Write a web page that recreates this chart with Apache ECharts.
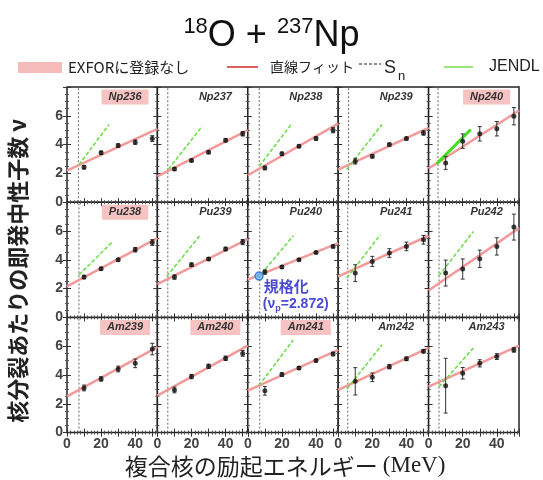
<!DOCTYPE html>
<html>
<head>
<meta charset="utf-8">
<script src="https://cdn.jsdelivr.net/npm/echarts@6/dist/echarts.min.js"></script>
<style>
html, body { margin: 0; padding: 0; background: #fff; }
#chart-container { width: 543px; height: 480px; }
</style>
</head>
<body>
<div id="chart-container"></div>
<script>
// panels, row by row
var nuclei = [
  'Np236', 'Np237', 'Np238', 'Np239', 'Np240',
  'Pu238', 'Pu239', 'Pu240', 'Pu241', 'Pu242',
  'Am239', 'Am240', 'Am241', 'Am242', 'Am243'
];
// not registered in EXFOR (pink label)
var noExfor = ['Np236', 'Np240', 'Pu238', 'Am239', 'Am240', 'Am241'];

var energies = [10, 20, 30, 40, 50];
var nuValues = [
  [2.43, 3.43, 3.93, 4.17, 4.42],
  [2.30, 2.90, 3.47, 4.30, 4.75],
  [2.38, 3.36, 3.89, 4.42, 5.00],
  [2.85, 3.19, 4.00, 4.42, 4.81],
  [2.73, 4.24, 4.75, 5.10, 5.97],
  [2.80, 3.38, 4.00, 4.70, 5.20],
  [2.80, 3.66, 4.05, 4.75, 5.23],
  [3.15, 3.50, 4.00, 4.51, 4.93],
  [3.08, 3.89, 4.47, 4.93, 5.39],
  [3.08, 3.36, 4.07, 4.93, 6.27],
  [3.10, 3.73, 4.42, 4.81, 5.80],
  [2.96, 3.89, 4.60, 5.16, 5.50],
  [2.90, 4.03, 4.49, 5.00, 5.46],
  [3.56, 3.84, 4.58, 5.12, 5.65],
  [3.26, 4.12, 4.81, 5.28, 5.74]
];
var nuErrors = [
  [0.12, 0.12, 0.12, 0.15, 0.20],
  [0.10, 0.10, 0.10, 0.12, 0.15],
  [0.12, 0.12, 0.10, 0.12, 0.18],
  [0.20, 0.12, 0.10, 0.10, 0.15],
  [0.45, 0.50, 0.50, 0.50, 0.60],
  [0.12, 0.10, 0.10, 0.15, 0.20],
  [0.15, 0.12, 0.10, 0.12, 0.18],
  [0.15, 0.10, 0.08, 0.08, 0.10],
  [0.58, 0.35, 0.30, 0.30, 0.30],
  [0.90, 0.70, 0.60, 0.60, 0.90],
  [0.20, 0.15, 0.20, 0.30, 0.40],
  [0.20, 0.15, 0.15, 0.15, 0.20],
  [0.30, 0.12, 0.10, 0.10, 0.12],
  [0.95, 0.30, 0.15, 0.12, 0.12],
  [1.90, 0.40, 0.25, 0.20, 0.15]
];
// linear fit: nu at E = 0 and at E = 53
var fitStart = [2.20, 1.80, 1.87, 2.27, 2.34, 2.15, 2.31, 2.62, 2.85, 1.87, 2.52, 2.57, 2.92, 2.96, 3.19];
var fitEnd   = [5.10, 5.00, 5.46, 5.16, 6.37, 5.50, 5.44, 5.16, 5.67, 6.20, 5.93, 6.04, 5.74, 5.88, 6.04];
// neutron separation energy (MeV)
var snValues = [6.7, 6.1, 6.7, 6.1, 5.5, 7.0, 6.1, 7.0, 5.6, 6.1, 7.0, 6.1, 7.0, 5.6, 6.1];
// JENDL segments [E1, nu1, E2, nu2]; null = none
var jendl = [
  [7.0, 2.60, 24.7, 5.40],
  [6.5, 2.30, 26.3, 5.28],
  [6.7, 2.50, 25.7, 5.44],
  [5.0, 2.27, 25.7, 5.40],
  [4.7, 2.66, 24.7, 5.05],
  [7.0, 2.95, 26.9, 5.28],
  [5.5, 2.85, 25.3, 5.74],
  [8.0, 3.03, 26.7, 5.67],
  [5.0, 2.73, 24.7, 5.74],
  [6.0, 2.89, 26.3, 5.97],
  null,
  null,
  [6.5, 3.26, 26.7, 6.44],
  [5.1, 3.03, 25.7, 6.10],
  [6.1, 3.19, 26.3, 5.88]
];
var normPanel = 'Pu240';
var normPoint = [6.6, 2.872];

var X_MAX = 53, Y_MAX = 8;
var GL = 67, GT = 87, GW = 90.4, GH = 115.2;

var dom = document.getElementById('chart-container');
var myChart = echarts.init(dom, null, {renderer: 'canvas'});

var grids = [], xAxes = [], yAxes = [], series = [], graphics = [];

function renderErr(params, api) {
  var x = api.value(0), lo = api.value(1), hi = api.value(2);
  var a = api.coord([x, lo]), b = api.coord([x, hi]);
  var st = {stroke: '#333', lineWidth: 1};
  return {type: 'group', children: [
    {type: 'line', shape: {x1: a[0], y1: a[1], x2: b[0], y2: b[1]}, style: st},
    {type: 'line', shape: {x1: a[0] - 2, y1: a[1], x2: a[0] + 2, y2: a[1]}, style: st},
    {type: 'line', shape: {x1: b[0] - 2, y1: b[1], x2: b[0] + 2, y2: b[1]}, style: st}
  ]};
}

var tickLabel = {fontSize: 14, fontWeight: 'bold', color: '#444', fontFamily: 'Liberation Sans'};

nuclei.forEach(function (name, k) {
  var col = k % 5, row = Math.floor(k / 5);
  var left = GL + col * GW, top = GT + row * GH;
  grids.push({left: left, top: top, width: GW, height: GH, show: true,
    borderColor: '#222', borderWidth: 1.5, backgroundColor: '#fff'});

  var xBase = {gridIndex: k, type: 'value', min: 0, max: X_MAX, interval: 10,
    axisLine: {show: false}, splitLine: {show: false},
    axisTick: {inside: true, length: 4, lineStyle: {color: '#333'}},
    minorTick: {show: true, splitNumber: 5, length: 2, lineStyle: {color: '#555'}}};
  xAxes.push(Object.assign({}, xBase, {position: 'bottom',
    axisLabel: Object.assign({show: row === 2, margin: 5, showMaxLabel: false,
      formatter: function (v) { return v % 20 === 0 ? String(v) : ''; }}, tickLabel)}));
  xAxes.push(Object.assign({}, xBase, {position: 'top', axisLabel: {show: false}}));

  var yBase = {gridIndex: k, type: 'value', min: 0, max: Y_MAX, interval: 2,
    axisLine: {show: false}, splitLine: {show: false},
    axisTick: {inside: true, length: 4, lineStyle: {color: '#333'}},
    minorTick: {show: true, splitNumber: 4, length: 2, lineStyle: {color: '#555'}}};
  yAxes.push(Object.assign({}, yBase, {position: 'left',
    axisLabel: Object.assign({show: col === 0, margin: 4, showMaxLabel: false}, tickLabel)}));
  yAxes.push(Object.assign({}, yBase, {position: 'right', axisLabel: {show: false}}));

  var xi = 2 * k, yi = 2 * k;

  // Sn
  series.push({type: 'line', xAxisIndex: xi, yAxisIndex: yi, silent: true, symbol: 'none',
    data: [[snValues[k], 0], [snValues[k], Y_MAX]],
    lineStyle: {color: '#666', width: 1, type: [2, 2]}, z: 1});
  // linear fit
  series.push({type: 'line', xAxisIndex: xi, yAxisIndex: yi, silent: true, symbol: 'none',
    data: [[0, fitStart[k]], [X_MAX, fitEnd[k]]],
    lineStyle: {color: '#f29a9a', width: 2.5}, z: 2});
  // JENDL
  if (jendl[k]) {
    var j = jendl[k], thick = name === 'Np240';
    series.push({type: 'line', xAxisIndex: xi, yAxisIndex: yi, silent: true, symbol: 'none',
      data: [[j[0], j[1]], [j[2], j[3]]],
      lineStyle: thick ? {color: '#44dd22', width: 3} : {color: '#66dd44', width: 1.5, type: [4, 2]}, z: 3});
  }
  // error bars
  series.push({type: 'custom', xAxisIndex: xi, yAxisIndex: yi, silent: true,
    renderItem: renderErr, encode: {x: 0, y: [1, 2]},
    data: energies.map(function (e, i) {
      return [e, nuValues[k][i] - nuErrors[k][i], nuValues[k][i] + nuErrors[k][i]];
    }), z: 4});
  // points
  series.push({type: 'scatter', xAxisIndex: xi, yAxisIndex: yi, silent: true,
    symbolSize: 5, itemStyle: {color: '#111'},
    data: energies.map(function (e, i) { return [e, nuValues[k][i]]; }), z: 5});

  if (name === normPanel) {
    series.push({type: 'scatter', xAxisIndex: xi, yAxisIndex: yi, silent: true,
      symbolSize: 8, itemStyle: {color: '#5ab4f0', borderColor: '#2e6fd6', borderWidth: 1.5},
      data: [normPoint], z: 6});
    graphics.push({type: 'text', left: left + 16, top: top + 77, z: 10,
      style: {text: '規格化', font: 'bold 15px "Noto Sans CJK JP"', fill: '#4a4ad4'}});
    graphics.push({type: 'text', left: left + 15, top: top + 95, z: 10,
      style: {text: '(ν{s|p}=2.872)', font: 'bold 14px "Liberation Sans"', fill: '#4a4ad4',
        rich: {s: {fontSize: 9, fontWeight: 'bold', fill: '#4a4ad4', padding: [8, 0, 0, 0]}}}});
  }

  // panel label
  var pink = noExfor.indexOf(name) >= 0;
  graphics.push({type: 'text', x: left + 58, y: top + 10, z: 10,
    style: {text: name, font: 'italic bold 11px "Liberation Sans"', fill: '#333',
      align: 'center', verticalAlign: 'middle',
      backgroundColor: pink ? '#f6c2c2' : 'transparent', padding: [2, 7]}});
});

// title
graphics.push({type: 'text', left: 'center', top: 16, z: 10,
  style: {text: '{s|18}{m|O + }{s|237}{m|Np}', fill: '#111',
    rich: {
      s: {fontSize: 22, fontFamily: 'Liberation Sans', verticalAlign: 'top', lineHeight: 40, padding: [0, 0, 14, 0]},
      m: {fontSize: 36, fontFamily: 'Liberation Sans', lineHeight: 40}
    }}});

// legend
graphics.push({type: 'rect', shape: {x: 18, y: 62, width: 44, height: 11}, style: {fill: '#f6bcbc'}});
graphics.push({type: 'text', x: 68, y: 67, style: {text: 'EXFORに登録なし', font: '15px "Noto Sans CJK JP"',
  fill: '#222', verticalAlign: 'middle'}});
graphics.push({type: 'line', shape: {x1: 227, y1: 67, x2: 258, y2: 67}, style: {stroke: '#e06060', lineWidth: 2}});
graphics.push({type: 'text', x: 270, y: 67, style: {text: '直線フィット', font: '14px "Noto Sans CJK JP"',
  fill: '#222', verticalAlign: 'middle'}});
graphics.push({type: 'line', shape: {x1: 359, y1: 64, x2: 381, y2: 64}, style: {stroke: '#222', lineWidth: 1.2, lineDash: [3, 2]}});
graphics.push({type: 'text', x: 384, y: 68, style: {text: 'S', font: '18px "Liberation Sans"', fill: '#222', verticalAlign: 'middle'}});
graphics.push({type: 'text', x: 398, y: 76, style: {text: 'n', font: '13px "Liberation Sans"', fill: '#222', verticalAlign: 'middle'}});
graphics.push({type: 'line', shape: {x1: 444, y1: 67, x2: 473, y2: 67}, style: {stroke: '#9be37a', lineWidth: 2}});
graphics.push({type: 'text', x: 489, y: 67, style: {text: 'JENDL', font: '16px "Liberation Sans"', fill: '#222', verticalAlign: 'middle'}});

// axis titles
graphics.push({type: 'text', x: 18, y: 271, rotation: Math.PI / 2,
  style: {text: '核分裂あたりの即発中性子数 ν', font: 'bold 22px "Noto Sans CJK JP"', fill: '#222',
    align: 'center', verticalAlign: 'middle'}});
graphics.push({type: 'text', x: 285, y: 466,
  style: {text: '複合核の励起エネルギー {u|(MeV)}', font: '23px "Noto Sans CJK JP"', fill: '#222',
    align: 'center', verticalAlign: 'middle',
    rich: {u: {fontSize: 23, fontFamily: 'Liberation Serif', fill: '#222'}}}});

option = {
  animation: false,
  backgroundColor: '#fff',
  grid: grids,
  xAxis: xAxes,
  yAxis: yAxes,
  series: series,
  graphic: graphics
};

myChart.setOption(option);
window.addEventListener('resize', myChart.resize);
</script>
</body>
</html>
